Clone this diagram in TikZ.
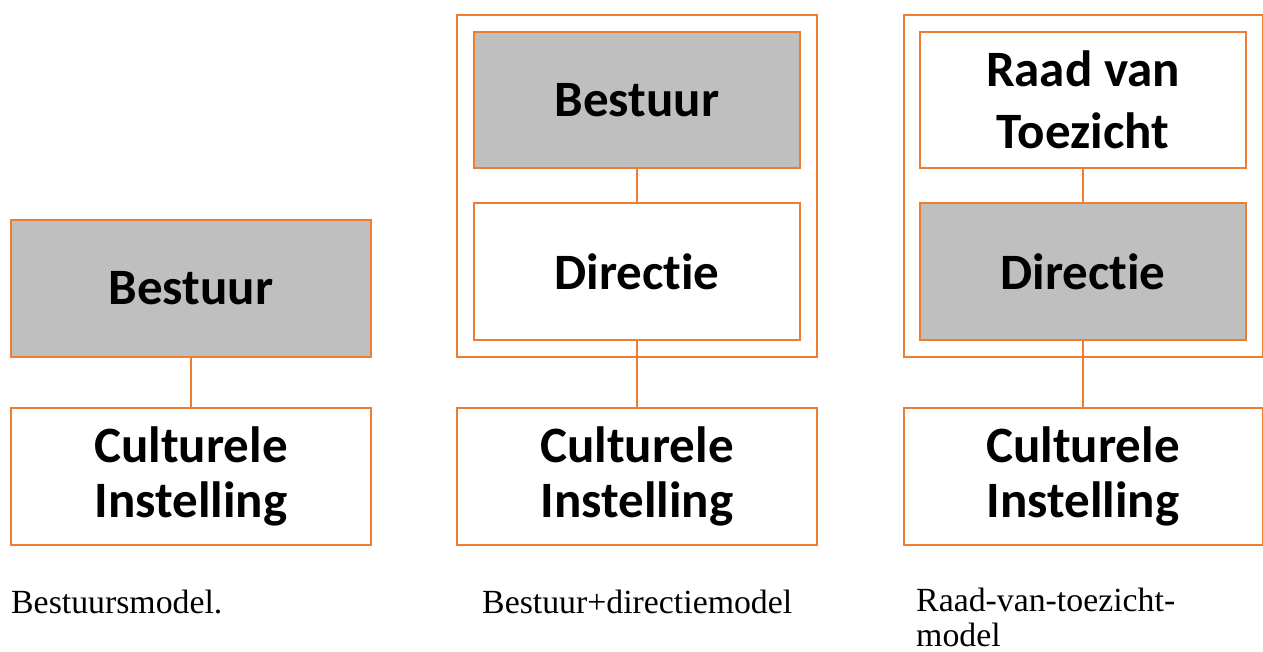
\documentclass[tikz,border=0pt]{standalone}
\usepackage{fontspec}
\setmainfont{Liberation Serif}
\newfontfamily\boxfont[Ligatures={NoCommon,NoRare,NoContextual}]{Carlito}
\definecolor{orgline}{RGB}{237,125,49}
\definecolor{boxgray}{RGB}{191,191,191}
\begin{document}
\begin{tikzpicture}[x=1pt,y=-1pt,
  orgbox/.style={draw=orgline,line width=2pt,rectangle,inner sep=0pt,
    minimum width=#1,font=\boxfont\bfseries\fontsize{51}{55}\selectfont,align=center},
  orgbox/.default=360pt,
  grayfill/.style={fill=boxgray},
  frame/.style={draw=orgline,line width=2pt,rectangle,inner sep=0pt},
  link/.style={draw=orgline,line width=2pt},
  caption/.style={font=\fontsize{33.8}{35}\selectfont,anchor=base west,inner sep=0pt,align=left}]
\useasboundingbox (0,0) rectangle (1263,652);
% left column
\node[orgbox,grayfill,minimum height=137pt] (b1) at (191,288.5) {\raisebox{-2.5pt}{Bestuur}};
\node[orgbox,minimum height=137pt] (c1) at (191,476.5) {Culturele\\Instelling};
\draw[link] (b1.south) -- (c1.north);
% middle column
\node[frame,minimum width=360pt,minimum height=342pt] (o2) at (637,186) {};
\node[orgbox=326pt,grayfill,minimum height=136pt] (b2) at (637,100) {\raisebox{-2.5pt}{Bestuur}};
\node[orgbox=326pt,minimum height=137pt] (d2) at (637,271.5) {Directie};
\node[orgbox,minimum height=137pt] (c2) at (637,476.5) {Culturele\\Instelling};
\draw[link] (b2.south) -- (d2.north);
\draw[link] (d2.south) -- (c2.north);
% right column
\node[frame,minimum width=359pt,minimum height=342pt] (o3) at (1083,186) {};
\node[orgbox=326pt,minimum height=136pt,font=\boxfont\bfseries\fontsize{51}{62}\selectfont] (r3) at (1083,100) {Raad van\\Toezicht};
\node[orgbox=326pt,grayfill,minimum height=137pt] (d3) at (1083,271.5) {Directie};
\node[orgbox=359pt,minimum height=137pt] (c3) at (1083,476.5) {Culturele\\Instelling};
\draw[link] (r3.south) -- (d3.north);
\draw[link] (d3.south) -- (c3.north);
% captions
\node[caption] (t1) at (11,613) {Bestuursmodel.};
\node[caption] (t2) at (482,613) {Bestuur+directiemodel};
\node[caption] (t3) at (916,646) {Raad-van-toezicht-\\model};
\end{tikzpicture}
\end{document}
